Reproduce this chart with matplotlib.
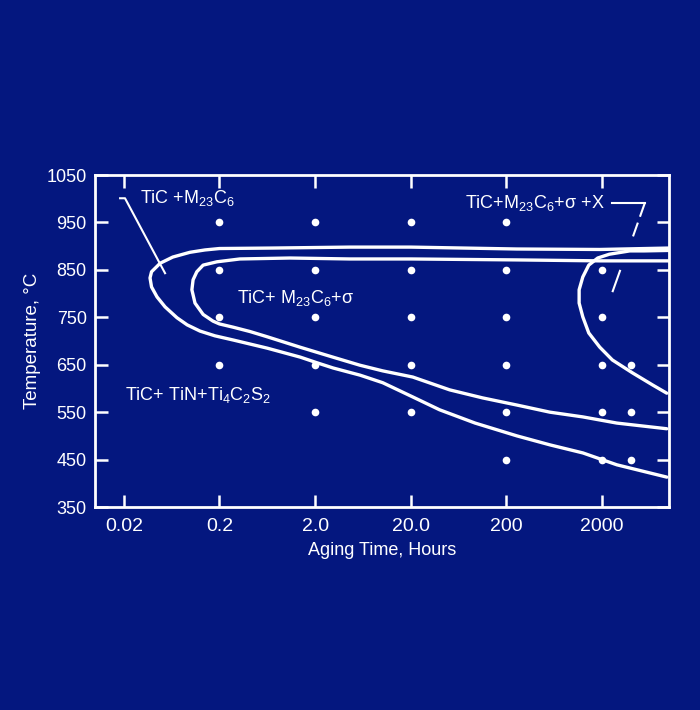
import matplotlib
matplotlib.use('Agg')
import matplotlib.pyplot as plt
import numpy as np

# colours
bg = '#04177f'
fg = 'white'

plt.rcParams['font.family'] = ['Liberation Sans', 'DejaVu Sans']
plt.rcParams['mathtext.fontset'] = 'custom'
plt.rcParams['mathtext.rm'] = 'Liberation Sans'
plt.rcParams['mathtext.it'] = 'Liberation Sans'

# tick positions / labels
xticks = [0.02, 0.2, 2.0, 20.0, 200, 2000]
xticklabels = ['0.02', '0.2', '2.0', '20.0', '200', '2000']
yticks = [350, 450, 550, 650, 750, 850, 950, 1050]

# boundary TiC+M23C6 (outer loop)
outer_t = [10000, 1890, 257, 20, 4.6, 0.72, 0.20, 0.141, 0.098, 0.065, 0.048, 0.039, 0.0376,
           0.039, 0.0445, 0.054, 0.072, 0.092, 0.125, 0.179, 0.28, 0.63, 1.4, 2.1, 3.1, 5.9,
           10.2, 21, 40, 94, 257, 570, 1260, 2850, 9500]
outer_T = [896, 893, 894, 898, 898, 896, 895, 892, 887, 877, 864, 846, 833,
           814, 793, 772, 749, 734, 721, 711, 702, 685, 666, 654, 643, 628,
           612, 582, 555, 527, 500, 481, 464, 439, 413]

# boundary TiC+M23C6+sigma (inner loop)
inner_t = [10000, 1890, 257, 20, 4.6, 1.09, 0.327, 0.188, 0.135, 0.116, 0.106, 0.103,
           0.111, 0.135, 0.171, 0.20, 0.28, 0.417, 0.63, 1.39, 3.07, 5.87, 10.2, 21, 51,
           113, 257, 568, 1256, 2850, 9480]
inner_T = [869, 869, 871, 873, 873, 875, 873, 867, 860, 846, 829, 808,
           780, 756, 742, 736, 729, 720, 709, 687, 666, 649, 637, 624, 597,
           580, 565, 550, 540, 527, 515]

# boundary TiC+M23C6+sigma+X
x_t = [10000, 5500, 3890, 2380, 1800, 1450, 1256, 1150, 1150, 1256, 1450, 1890,
       2560, 4140, 6780, 9480]
x_T = [891, 890, 890, 883, 875, 860, 835, 808, 780, 751, 717, 687,
       660, 633, 607, 590]

# aging experiments (time h, temperature C)
dots_t = [0.2, 2, 20, 200,
          0.2, 2, 20, 200, 2000,
          0.2, 2, 20, 200, 2000,
          0.2, 2, 20, 200, 2000, 4000,
          2, 20, 200, 2000, 4000,
          200, 2000, 4000]
dots_T = [950, 950, 950, 950,
          850, 850, 850, 850, 850,
          750, 750, 750, 750, 750,
          650, 650, 650, 650, 650, 650,
          550, 550, 550, 550, 550,
          450, 450, 450]

# leader lines for labels
lead1_t = [0.0183, 0.0206, 0.054]
lead1_T = [1001, 1001, 843]
lead2_t = [2560, 5590]
lead2_T = [991, 991]
lead2b_t = [5590, 4080]
lead2b_T = [991, 913]
lead3_t = [3100, 2560]
lead3_T = [850, 803]

fig = plt.figure(figsize=(7, 7.1), dpi=100, facecolor=bg)
ax = fig.add_axes([0.1357, 0.2859, 0.82, 0.4676])
ax.set_facecolor(bg)
ax.set_xscale('log')
ax.set_xlim(0.01, 10000)
ax.set_ylim(350, 1050)

kw = dict(color=fg, lw=2.4, solid_joinstyle='round', solid_capstyle='round')
ax.plot(outer_t, outer_T, **kw)
ax.plot(inner_t, inner_T, **kw)
ax.plot(x_t, x_T, **kw)
ax.plot(dots_t, dots_T, 'o', color=fg, ms=5.5, mec='none')

ax.plot(lead1_t, lead1_T, color=fg, lw=1.5)
ax.plot(lead2_t, lead2_T, color=fg, lw=1.5)
ax.plot(lead2b_t, lead2b_T, color=fg, lw=1.5, ls=(0, (7, 3)))
ax.plot(lead3_t, lead3_T, color=fg, lw=1.5, ls=(0, (12, 3)))

fs = 13
ax.text(0.0295, 1001, 'TiC +M$_{23}$C$_6$', color=fg, fontsize=fs, va='center', ha='left')
ax.text(0.305, 790, 'TiC+ M$_{23}$C$_6$+σ', color=fg, fontsize=fs, va='center', ha='left')
ax.text(0.0206, 586, 'TiC+ TiN+Ti$_4$C$_2$S$_2$', color=fg, fontsize=fs, va='center', ha='left')
ax.text(73.5, 991, 'TiC+M$_{23}$C$_6$+σ +X', color=fg, fontsize=fs, va='center', ha='left')

ax.set_xticks(xticks)
ax.set_xticklabels(xticklabels)
ax.minorticks_off()
ax.set_yticks(yticks)
ax.tick_params(which='both', direction='in', top=True, right=True, length=9, width=1.8,
               colors=fg, labelsize=fs)
ax.tick_params(axis='x', labelsize=14, pad=8)
ax.tick_params(axis='y', pad=6)
for s in ax.spines.values():
    s.set_color(fg)
    s.set_linewidth(2)

ax.set_xlabel('Aging Time, Hours', color=fg, fontsize=fs, labelpad=5)
ax.set_ylabel('Temperature, °C', color=fg, fontsize=13.5, labelpad=4)

fig.savefig('out.png', dpi=100, facecolor=bg)
